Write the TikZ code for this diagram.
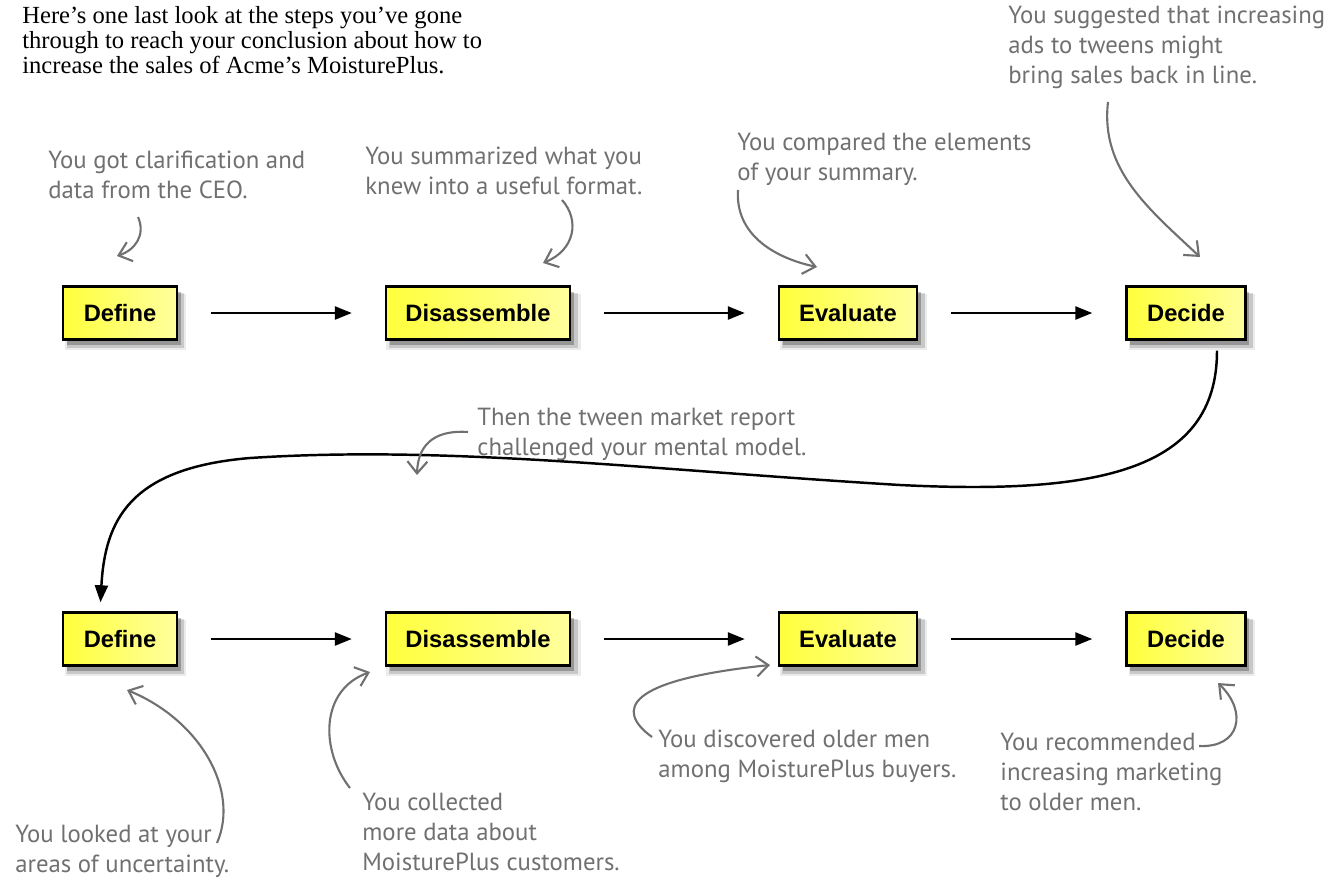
\documentclass[tikz,border=0pt]{standalone}
\usepackage{fontspec}
\setmainfont{Liberation Serif}
\newfontfamily\boxfont{Liberation Sans}
\newfontfamily\handfont{PT Sans}
\usetikzlibrary{arrows.meta,shadows}
\definecolor{boxyellow}{HTML}{FFFF3C}
\definecolor{boxpale}{HTML}{FFFF9E}
\definecolor{pencil}{HTML}{707070}
\tikzset{
  >={Triangle[length=3.4mm,width=2.6mm]},
  % steg
  stepbox/.style={draw=black,line width=1.4pt,left color=boxyellow,right color=boxpale,
    minimum height=1.06cm,inner sep=0pt,
    font=\boxfont\bfseries\fontsize{13.5}{15}\selectfont,
    drop shadow={shadow xshift=3pt,shadow yshift=-5pt,shadow scale=1.06,fill=black,opacity=0.08},
    drop shadow={shadow xshift=3pt,shadow yshift=-4pt,shadow scale=1.03,fill=black,opacity=0.15},
    drop shadow={shadow xshift=2pt,shadow yshift=-3pt,fill=black,opacity=0.25}},
  flow/.style={->,draw=black,line width=1.4pt,shorten <=0.66cm,shorten >=0.66cm},
  loopback/.style={->,draw=black,line width=1.4pt},
  % anteckningar
  note/.style={text=pencil,align=left,inner sep=0pt,anchor=north west,
    font=\handfont\fontsize{14.1}{17}\selectfont},
  pen/.style={-{Straight Barb[length=2.4mm,width=4mm]},draw=pencil,line width=1.2pt},
}
\begin{document}
\begin{tikzpicture}[x=0.02cm,y=-0.02cm]
  \useasboundingbox (0,0) rectangle (1334,889);
  \node[anchor=north west,align=left,inner sep=0pt,
        font=\fontsize{14}{14.2}\selectfont] (intro) at (22,6)
    {Here’s one last look at the steps you’ve gone\\
     through to reach your conclusion about how to\\
     increase the sales of Acme’s MoisturePlus.};
  % foersta varvet
  \node[stepbox,minimum width=2.28cm] (def1) at (120,313) {Define};
  \node[stepbox,minimum width=3.68cm] (dis1) at (478,313) {Disassemble};
  \node[stepbox,minimum width=2.76cm] (eva1) at (848,313) {Evaluate};
  \node[stepbox,minimum width=2.38cm] (dec1) at (1186,313) {Decide};
  % andra varvet
  \node[stepbox,minimum width=2.28cm] (def2) at (120,639) {Define};
  \node[stepbox,minimum width=3.68cm] (dis2) at (478,639) {Disassemble};
  \node[stepbox,minimum width=2.76cm] (eva2) at (848,639) {Evaluate};
  \node[stepbox,minimum width=2.38cm] (dec2) at (1186,639) {Decide};
  \draw[flow] (def1) -- (dis1);
  \draw[flow] (dis1) -- (eva1);
  \draw[flow] (eva1) -- (dec1);
  \draw[flow] (def2) -- (dis2);
  \draw[flow] (dis2) -- (eva2);
  \draw[flow] (eva2) -- (dec2);
  \draw[loopback,shorten <=0.2cm,shorten >=0.18cm] ([xshift=0.62cm]dec1.south)
    .. controls (1217,470) and (1100,495) .. (900,485)
    .. controls (650,470) and (450,445) .. (250,458)
    .. controls (130,468) and (105,520) .. ([xshift=-0.4cm]def2.north);
  % anteckningar
  \node[note] (n1) at (48,151) {You got clarification and\\data from the CEO.};
  \node[note] (n2) at (365,147) {You summarized what you\\knew into a useful format.};
  \node[note] (n3) at (737,133) {You compared the elements\\of your summary.};
  \node[note] (n4) at (1008,6) {You suggested that increasing\\ads to tweens might\\bring sales back in line.};
  \node[note] (n5) at (477,408) {Then the tween market report\\challenged your mental model.};
  \node[note] (n6) at (15,825) {You looked at your\\areas of uncertainty.};
  \node[note] (n7) at (362,793) {You collected\\more data about\\MoisturePlus customers.};
  \node[note] (n8) at (658,730) {You discovered older men\\among MoisturePlus buyers.};
  \node[note] (n9) at (1000,733) {You recommended\\increasing marketing\\to older men.};
  \coordinate (t1) at (117,256);
  \coordinate (t2) at (543,263);
  \coordinate (t3) at (817,267);
  \coordinate (t4) at (1200,257);
  \coordinate (t5) at (417,475);
  \coordinate (t6) at (127,690);
  \coordinate (t7) at (370,672);
  \coordinate (t8) at (770,665);
  \coordinate (t9) at (1218,683);
  \draw[pen] (138,217) .. controls (146,235) and (135,250) .. (t1);
  \draw[pen] (562,200) .. controls (580,220) and (575,250) .. (t2);
  \draw[pen] (738,190) .. controls (735,235) and (775,258) .. (t3);
  \draw[pen] (1108,102) .. controls (1100,170) and (1150,210) .. (t4);
  \draw[pen] (468,432) .. controls (440,430) and (418,440) .. (t5);
  \draw[pen] (217,843) .. controls (240,790) and (200,720) .. (t6);
  \draw[pen] (350,788) .. controls (320,750) and (320,690) .. (t7);
  \draw[pen] (652,737) .. controls (615,710) and (625,680) .. (t8);
  \draw[pen] (1199,746) .. controls (1240,748) and (1248,712) .. (t9);
\end{tikzpicture}
\end{document}
